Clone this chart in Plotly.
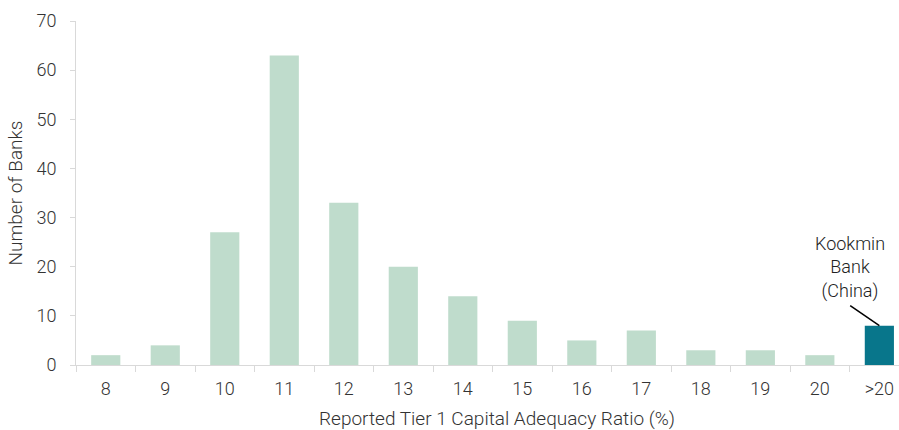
import plotly.graph_objects as go

categories = ["8", "9", "10", "11", "12", "13", "14", "15", "16", "17", "18", "19", "20", ">20"]
banks = [2, 4, 27, 63, 33, 20, 14, 9, 5, 7, 3, 3, 2, 8]
y_ticks = [0, 10, 20, 30, 40, 50, 60, 70]

LIGHT = "#bfdccc"
DARK = "#08768b"
colors = [LIGHT] * (len(categories) - 1) + [DARK]

tick_font = dict(family="Roboto", size=18, color="#333333", weight=300)
title_font = dict(family="Roboto", size=19, color="#333333", weight=300)

fig = go.Figure(go.Bar(
    x=categories, y=banks, marker=dict(color=colors, line=dict(width=0)),
    hoverinfo="x+y",
))

fig.update_layout(
    width=899, height=430,
    margin=dict(l=76, r=0, t=21, b=65),
    plot_bgcolor="white", paper_bgcolor="white",
    bargap=0.51,
    showlegend=False,
    font=tick_font,
)

fig.update_xaxes(
    type="category",
    range=[-0.5, 13.33],
    showline=True, linecolor="#d9d9d9", linewidth=1,
    ticks="outside", tickson="boundaries", ticklen=6, tickcolor="#d9d9d9",
    showgrid=False, zeroline=False,
    tickfont=tick_font, ticklabelstandoff=7,
)
fig.update_yaxes(
    range=[0, 70], tickvals=y_ticks,
    showline=True, linecolor="#d9d9d9", linewidth=1,
    ticks="outside", ticklen=5, tickcolor="#d9d9d9",
    showgrid=False, zeroline=False,
    tickfont=tick_font, ticklabelstandoff=10,
    title=dict(text="Number of Banks", font=title_font, standoff=8),
)

# X-axis title, centred under the full category span
fig.add_annotation(
    xref="paper", yref="paper", x=0.512, y=0, yshift=-53,
    xanchor="center", yanchor="middle", showarrow=False,
    text="Reported Tier 1 Capital Adequacy Ratio (%)", font=title_font,
)

# Callout for the highlighted bar
last = len(categories) - 1
fig.add_shape(
    type="line", xref="x", yref="y",
    x0=last - 0.49, y0=banks[-1] + 4.1, x1=last, y1=banks[-1],
    line=dict(color="black", width=1.5),
)
fig.add_annotation(
    x=last - 0.49, y=banks[-1] + 4.4, xref="x", yref="y",
    text="Kookmin<br>Bank<br>(China)", showarrow=False,
    xanchor="center", yanchor="bottom", align="center",
    font=dict(family="Roboto", size=18, color="#222222", weight=300),
)

fig.write_html("out.html")
